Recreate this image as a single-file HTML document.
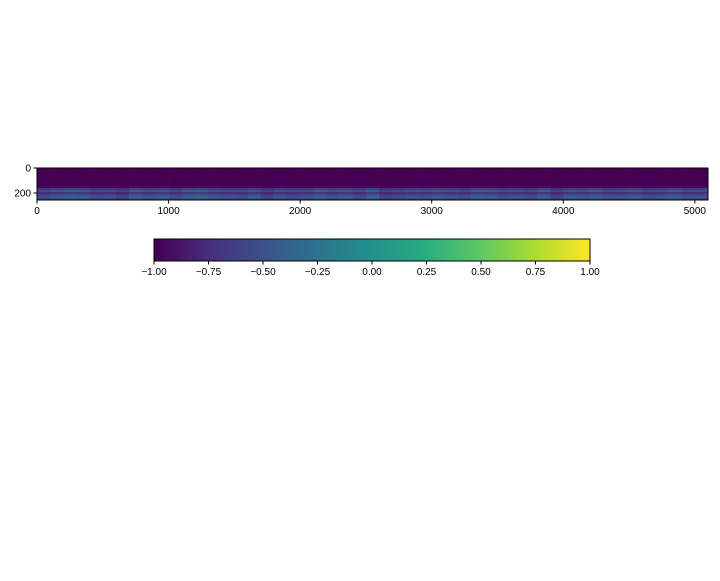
<!DOCTYPE html>
<html><head><meta charset="utf-8"><style>
body{margin:0;background:#fff;width:720px;height:576px;overflow:hidden}
text{font-family:"Liberation Sans","DejaVu Sans",sans-serif;font-size:10px;fill:#000}
</style></head><body>
<svg id="fig" width="720" height="576">
<defs><linearGradient id="vir" x1="0" x2="1" y1="0" y2="0">
<stop offset="0" stop-color="#440154"/><stop offset="0.125" stop-color="#472d7b"/><stop offset="0.25" stop-color="#3b528b"/><stop offset="0.375" stop-color="#2c728e"/><stop offset="0.5" stop-color="#21918c"/><stop offset="0.625" stop-color="#28ae80"/><stop offset="0.75" stop-color="#5ec962"/><stop offset="0.875" stop-color="#addc30"/><stop offset="1" stop-color="#fde725"/></linearGradient></defs>
<g id="heat"></g>
<rect x="37" y="168" width="671" height="32" fill="none" stroke="#000" stroke-width="1"/>
<g id="axes"></g>
<rect x="154" y="239" width="436" height="22" fill="url(#vir)" stroke="#000" stroke-width="1"/>
<g id="cbt"></g>
</svg>
<script>
const xTicks=[0,1000,2000,3000,4000,5000];
const yTicks=[0,200];
const cbTicks=[-1,-0.75,-0.5,-0.25,0,0.25,0.5,0.75,1];
const cbLabels=["\u22121.00","\u22120.75","\u22120.50","\u22120.25","0.00","0.25","0.50","0.75","1.00"];
const rowProfile=[0,0,0,0,0,0,0,0,0,0.05,0.3,0.45,0.25,0.4,0.5,0.35];
const colActivity=[0.7,0.8,0.9,0.85,0.7,0.75,0.6,0.9,0.8,0.85,0.7,0.9,0.95,0.8,0.75,0.7,0.85,0.6,0.8,0.7,0.75,0.9,0.8,0.85,0.7,0.95,0.6,0.7,0.8,0.75,0.85,0.8,0.7,0.9,0.85,0.75,0.8,0.7,0.9,0.6,0.85,0.8,0.9,0.75,0.8,0.85,0.7,0.8,0.9,0.75,0.8];
const xMax=5100,yMax=256;
const X0=37,X1=708,Y0=168,Y1=200;
const sx=v=>X0+(v/xMax)*(X1-X0), sy=v=>Y0+(v/yMax)*(Y1-Y0);
const ns="http://www.w3.org/2000/svg";
const stops=[[68,1,84],[71,45,123],[59,82,139],[44,114,142],[33,145,140],[40,174,128],[94,201,98],[173,220,48],[253,231,37]];
function vir(v){let t=(v+1)/2*8;t=Math.max(0,Math.min(8,t));const i=Math.min(7,Math.floor(t)),f=t-i;const a=stops[i],b=stops[i+1];return`rgb(${a.map((c,k)=>Math.round(c+(b[k]-c)*f)).join(",")})`;}
const heat=document.getElementById('heat');
const cw=xMax/colActivity.length,rh=yMax/rowProfile.length;
rowProfile.forEach((p,r)=>colActivity.forEach((a,c)=>{
 const v=-1+p*a*1.4;
 const el=document.createElementNS(ns,'rect');
 el.setAttribute('x',sx(c*cw));el.setAttribute('y',sy(r*rh));
 el.setAttribute('width',sx((c+1)*cw)-sx(c*cw)+0.3);el.setAttribute('height',sy((r+1)*rh)-sy(r*rh)+0.3);
 el.setAttribute('fill',vir(v));
 
 
 heat.appendChild(el);
}));
const ax=document.getElementById('axes');
function line(x1,y1,x2,y2,g){const l=document.createElementNS(ns,'line');l.setAttribute('x1',x1);l.setAttribute('y1',y1);l.setAttribute('x2',x2);l.setAttribute('y2',y2);l.setAttribute('stroke','#000');g.appendChild(l);return l;}
function txt(x,y,s,anc,g){const t=document.createElementNS(ns,'text');t.setAttribute('x',x);t.setAttribute('y',y);t.setAttribute('text-anchor',anc);t.textContent=s;g.appendChild(t);return t;}
xTicks.forEach(v=>{const x=sx(v);const l=line(x,Y1,x,Y1+3.5,ax);


const t=txt(x,Y1+14,String(v),'middle',ax);

});
yTicks.forEach(v=>{const y=sy(v);const l=line(X0-3.5,y,X0,y,ax);


const t=txt(X0-6,y+3.5,String(v),'end',ax);

});
const cb=document.getElementById('cbt');
cbTicks.forEach((v,i)=>{const x=154+(v+1)/2*436;const l=line(x,261,x,264.5,cb);


const t=txt(x,275,cbLabels[i],'middle',cb);

});
</script>
</body></html>
